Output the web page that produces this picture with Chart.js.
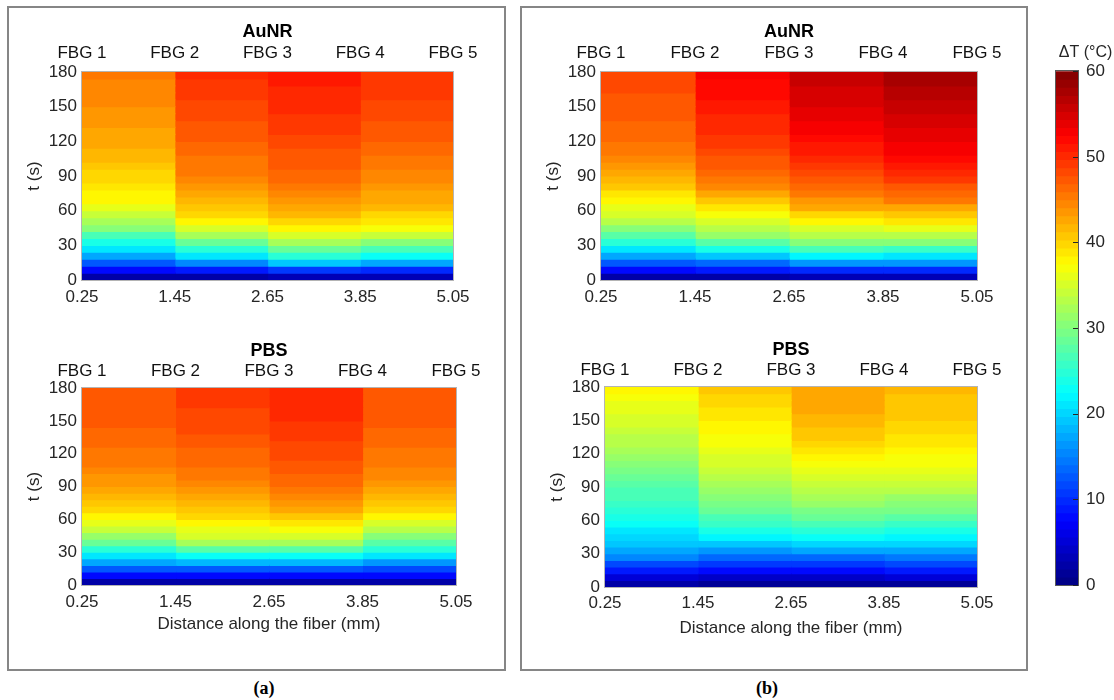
<!DOCTYPE html>
<html>
<head>
<meta charset="utf-8">
<title>Temperature maps along the fiber</title>
<script src="https://cdn.jsdelivr.net/npm/chart.js@4.4.1/dist/chart.umd.min.js"></script>
<style>
  html, body { margin: 0; padding: 0; background: #fff; }
  #figure { position: relative; width: 1114px; height: 700px; overflow: hidden; }
  .panel { position: absolute; border: 2px solid #868686; box-sizing: border-box; }
  .tag { position: absolute; font: bold 18px "Liberation Serif", "Times New Roman", serif; color: #000; transform: translate(-50%, -50%); }
  canvas { position: absolute; }
</style>
</head>
<body>
<div id="figure">
  <div class="panel" style="left:7px;top:6px;width:499px;height:665px"></div>
  <div class="panel" style="left:520px;top:6px;width:508px;height:665px"></div>

  <canvas id="aAuNR" width="480" height="300" style="left:10px;top:10px"></canvas>
  <canvas id="aPBS"  width="483" height="310" style="left:10px;top:330px"></canvas>
  <canvas id="bAuNR" width="485" height="300" style="left:529px;top:10px"></canvas>
  <canvas id="bPBS"  width="481" height="312" style="left:533px;top:330px"></canvas>
  <canvas id="colorbar" width="65" height="575" style="left:1050px;top:30px"></canvas>

  <div class="tag" style="left:264px;top:688px">(a)</div>
  <div class="tag" style="left:767px;top:688px">(b)</div>
</div>

<script>
// ============================================================================
// Data
// ============================================================================
const fiberPos = [0.25, 1.45, 2.65, 3.85, 5.05];
const fbgLabels = ['FBG 1', 'FBG 2', 'FBG 3', 'FBG 4', 'FBG 5'];
const timeSteps = [0, 6, 12, 18, 24, 30, 36, 42, 48, 54, 60, 66, 72, 78, 84, 90,
                   96, 102, 108, 114, 120, 126, 132, 138, 144, 150, 156, 162, 168, 174, 180];
const timeTicks = [0, 30, 60, 90, 120, 150, 180];
const colorTicks = [0, 10, 20, 30, 40, 50, 60];

// ΔT (°C) for each grating, one value per 6 s sample (t = 0 ... 174 s)
// (a) AuNR
const aAuNR1 = [2, 8, 13, 17, 21, 24, 27, 30, 32.5, 34.5, 36, 37.5, 38.2, 38.8, 39.5, 40, 40.7, 41.3, 41.8, 42.2, 42.6, 43, 43.3, 43.6, 44, 44.2, 44.5, 44.7, 44.9, 45];
const aAuNR2 = [2, 9, 15, 21, 25, 29, 32.5, 35.5, 37.5, 39.5, 40.8, 42, 43, 43.8, 44.4, 45, 45.4, 45.9, 46.3, 46.7, 47, 47.3, 47.6, 47.9, 48.2, 48.5, 48.8, 49.1, 49.4, 49.7];
const aAuNR3 = [3, 11, 19, 24.5, 29, 32, 35, 37.5, 40, 41.5, 42.8, 44, 44.8, 45.5, 46, 46.5, 47, 47.4, 47.8, 48.2, 48.5, 48.8, 49.1, 49.4, 49.7, 50, 50.3, 50.6, 50.9, 51.2];
const aAuNR4 = [3, 10, 17, 22.5, 27, 30.5, 34, 37, 39, 40.3, 41.3, 42.2, 43, 43.7, 44.3, 44.8, 45.3, 45.7, 46.1, 46.5, 46.9, 47.3, 47.6, 47.9, 48.2, 48.5, 48.8, 49.1, 49.3, 49.5];
// (a) PBS
const aPBS1 = [2, 8, 12.5, 17, 21.5, 25, 28.5, 31.5, 34, 36.5, 38.2, 39.6, 41, 42, 42.8, 43.4, 44, 44.5, 45, 45.4, 45.8, 46.1, 46.4, 46.7, 46.9, 47.1, 47.3, 47.5, 47.6, 47.7];
const aPBS2 = [2, 8, 13, 18, 23, 27.5, 32, 34.8, 36.5, 38, 39.5, 40.8, 42, 43, 43.8, 44.5, 45, 45.5, 46, 46.4, 46.8, 47.2, 47.6, 47.9, 48.2, 48.5, 48.7, 48.9, 49.1, 49.3];
const aPBS3 = [2, 8, 13, 18, 23, 27.5, 32, 35, 36.8, 38.8, 41, 42.8, 44, 44.8, 45.5, 46, 46.5, 47, 47.5, 47.9, 48.3, 48.7, 49, 49.3, 49.6, 49.8, 50, 50.2, 50.4, 50.5];
const aPBS4 = [2, 7.5, 12, 16.5, 21, 24.5, 28, 30.5, 33, 35.5, 37.8, 39.5, 40.8, 42, 43, 43.7, 44.2, 44.7, 45.1, 45.5, 45.8, 46.1, 46.4, 46.7, 46.9, 47.1, 47.3, 47.5, 47.6, 47.7];
// (b) AuNR
const bAuNR1 = [2, 8, 13, 17.5, 21.5, 25, 28, 30.8, 33, 35, 36.5, 37.5, 39, 40.5, 41.8, 43, 44, 44.7, 45.3, 45.8, 46.2, 46.5, 46.8, 47.1, 47.3, 47.5, 47.7, 47.9, 48.1, 48.3];
const bAuNR2 = [2, 8.5, 14, 19, 24, 28, 31, 33.5, 35.5, 37.3, 39, 41, 42.8, 44.2, 45.3, 46.2, 47, 47.7, 48.3, 48.8, 49.3, 49.8, 50.2, 50.6, 51, 51.3, 51.6, 51.9, 52.2, 52.5];
const bAuNR3 = [3, 10, 16, 22, 27, 30.5, 33, 35.5, 37.5, 40, 42.3, 44, 45.5, 46.8, 47.8, 48.7, 49.5, 50.2, 50.9, 51.5, 52, 52.6, 53.1, 53.6, 54, 54.4, 54.8, 55.2, 55.5, 55.8];
const bAuNR4 = [3, 10, 16, 21.5, 26, 30, 33, 36, 38.5, 40.8, 43, 45, 46.5, 47.8, 49, 50, 51, 51.8, 52.5, 53.2, 53.8, 54.3, 54.8, 55.3, 55.7, 56.1, 56.5, 56.9, 57.2, 57.5];
// (b) PBS
const bPBS1 = [2, 5, 9, 12, 15, 17, 18.8, 20.3, 21.5, 22.5, 23.5, 24.5, 25.5, 26.3, 27, 28, 28.8, 29.5, 30.3, 31.2, 32.2, 33, 33.6, 34.2, 34.7, 35.2, 35.8, 36.5, 37.3, 38];
const bPBS2 = [1.5, 4.5, 8, 11, 13.5, 16, 19, 22, 24, 25.5, 27, 28.3, 29.3, 30.3, 31.3, 32.3, 33.2, 34, 34.8, 35.4, 36, 36.7, 37.3, 37.8, 38.3, 38.8, 39.3, 39.8, 40.2, 40.6];
const bPBS3 = [1.5, 4.5, 8, 11, 14, 17, 20, 22.5, 24.5, 26.5, 28.2, 29.8, 31, 32.2, 33.2, 34.2, 35.2, 36.2, 37, 37.8, 38.8, 39.7, 40.5, 41, 41.5, 41.9, 42.2, 42.5, 42.8, 43.1];
const bPBS4 = [1.5, 5, 8.5, 11.5, 14.5, 17.5, 20, 22, 24, 26, 27.8, 29.3, 30.7, 31.8, 33, 34, 35, 35.8, 36.7, 37.4, 38, 38.6, 39.2, 39.7, 40.1, 40.5, 40.8, 41, 41.2, 41.4];

// ============================================================================
// Colour map (jet, 64 levels, 0-60 °C)
// ============================================================================
const CMAX = 60;
const LEVELS = 64;
const TEXT = '#262626';

Chart.defaults.font.family = '"Liberation Sans", Arial, Helvetica, sans-serif';
Chart.defaults.color = TEXT;

function clamp01(v) {
    return Math.max(0, Math.min(1, v));
}

function jetColor(value) {
    let idx = Math.floor(value / CMAX * LEVELS);
    idx = Math.max(0, Math.min(LEVELS - 1, idx));
    const f = (idx + 0.5) / LEVELS;
    const r = clamp01(Math.min(4 * f - 1.5, -4 * f + 4.5));
    const g = clamp01(Math.min(4 * f - 0.5, -4 * f + 3.5));
    const b = clamp01(Math.min(4 * f + 0.5, -4 * f + 2.5));
    return `rgb(${Math.round(r * 255)}, ${Math.round(g * 255)}, ${Math.round(b * 255)})`;
}

// thin box round the plot area
function frameBox(color) {
    return {
        id: 'frameBox',
        afterDatasetsDraw(chart) {
            const { ctx, chartArea: a } = chart;
            ctx.save();
            ctx.strokeStyle = color;
            ctx.lineWidth = 1;
            ctx.strokeRect(Math.round(a.left) - 0.5, Math.round(a.top) - 0.5,
                           Math.round(a.width) + 1, Math.round(a.height) + 1);
            ctx.restore();
        }
    };
}

function fixedTicks(values) {
    return scale => { scale.ticks = values.map(value => ({ value })); };
}

// ============================================================================
// Heatmaps
// ============================================================================
function drawHeatmap(canvasId, title, columns, lay) {
    // one floating bar per grating segment and time sample
    const datasets = columns.map((vals, c) => ({
        data: vals.map((v, i) => ({
            x: (fiberPos[c] + fiberPos[c + 1]) / 2,
            y: [timeSteps[i], timeSteps[i + 1]],
            v: v
        })),
        backgroundColor: ctx => ctx.raw ? jetColor(ctx.raw.v) : 'transparent',
        borderWidth: 0,
        barPercentage: 1,
        categoryPercentage: 1,
        grouped: false,
        inflateAmount: 0.6
    }));

    return new Chart(document.getElementById(canvasId), {
        type: 'bar',
        data: { datasets },
        options: {
            responsive: false,
            animation: false,
            devicePixelRatio: 1,
            events: [],
            layout: { padding: { left: 0, right: 37, top: 0, bottom: 0 } },
            plugins: {
                legend: { display: false },
                tooltip: { enabled: false }
            },
            scales: {
                x: {
                    type: 'linear',
                    position: 'bottom',
                    min: fiberPos[0],
                    max: fiberPos[fiberPos.length - 1],
                    offset: false,
                    afterBuildTicks: fixedTicks(fiberPos),
                    afterFit: s => { s.height = lay.xHeight; },
                    grid: { display: false, drawTicks: false },
                    border: { display: false },
                    ticks: {
                        callback: v => v.toFixed(2),
                        padding: lay.xTickPad,
                        autoSkip: false,
                        maxRotation: 0,
                        color: TEXT,
                        font: { size: 17 }
                    },
                    title: {
                        display: lay.xTitle,
                        text: 'Distance along the fiber (mm)',
                        color: TEXT,
                        font: { size: 17 },
                        padding: { top: 0, bottom: lay.xTitlePad }
                    }
                },
                x2: {
                    type: 'linear',
                    position: 'top',
                    min: fiberPos[0],
                    max: fiberPos[fiberPos.length - 1],
                    offset: false,
                    afterBuildTicks: fixedTicks(fiberPos),
                    afterFit: s => { s.height = lay.topHeight; },
                    grid: { display: false, drawTicks: false },
                    border: { display: false },
                    ticks: {
                        callback: (v, i) => fbgLabels[i],
                        padding: lay.fbgPad,
                        autoSkip: false,
                        maxRotation: 0,
                        color: '#111',
                        font: { size: 17 }
                    },
                    title: {
                        display: true,
                        text: title,
                        color: '#000',
                        font: { size: 18, weight: 'bold' },
                        padding: { top: lay.titlePad, bottom: 0 }
                    }
                },
                y: {
                    min: 0,
                    max: 180,
                    afterBuildTicks: fixedTicks(timeTicks),
                    afterFit: s => { s.width = 72; },
                    grid: { display: false, drawTicks: false },
                    border: { display: false },
                    ticks: {
                        callback: v => String(v),
                        padding: 5,
                        autoSkip: false,
                        color: TEXT,
                        font: { size: 17 }
                    },
                    title: {
                        display: true,
                        text: 't (s)',
                        color: TEXT,
                        font: { size: 17 },
                        padding: { top: 14, bottom: 0 }
                    }
                }
            }
        },
        plugins: [frameBox('#b4b4b4')]
    });
}

const topLayout = { xHeight: 30, xTickPad: 7, xTitle: false, xTitlePad: 0, topHeight: 62, fbgPad: 8, titlePad: 11 };

drawHeatmap('aAuNR', 'AuNR', [aAuNR1, aAuNR2, aAuNR3, aAuNR4], topLayout);
drawHeatmap('aPBS', 'PBS', [aPBS1, aPBS2, aPBS3, aPBS4],
    { xHeight: 55, xTickPad: 7, xTitle: true, xTitlePad: 5, topHeight: 58, fbgPad: 6, titlePad: 10 });
drawHeatmap('bAuNR', 'AuNR', [bAuNR1, bAuNR2, bAuNR3, bAuNR4], topLayout);
drawHeatmap('bPBS', 'PBS', [bPBS1, bPBS2, bPBS3, bPBS4],
    { xHeight: 55, xTickPad: 6, xTitle: true, xTitlePad: 3, topHeight: 57, fbgPad: 6, titlePad: 9 });

// ============================================================================
// Colour bar
// ============================================================================
const levelBars = [];
for (let i = 0; i < LEVELS; i++) {
    levelBars.push({ x: 'ΔT', y: [i * CMAX / LEVELS, (i + 1) * CMAX / LEVELS] });
}

const colorbarTicks = {
    id: 'colorbarTicks',
    afterDatasetsDraw(chart) {
        const { ctx, chartArea: a, scales: { y } } = chart;
        ctx.save();
        ctx.strokeStyle = TEXT;
        ctx.lineWidth = 1;
        colorTicks.forEach(t => {
            const py = Math.round(y.getPixelForValue(t)) + 0.5;
            ctx.beginPath();
            ctx.moveTo(a.right - 5, py);
            ctx.lineTo(a.right, py);
            ctx.stroke();
        });
        ctx.restore();
    }
};

new Chart(document.getElementById('colorbar'), {
    type: 'bar',
    data: {
        labels: ['ΔT'],
        datasets: [{
            data: levelBars,
            backgroundColor: ctx => ctx.raw ? jetColor((ctx.raw.y[0] + ctx.raw.y[1]) / 2) : 'transparent',
            borderWidth: 0,
            barPercentage: 1,
            categoryPercentage: 1,
            grouped: false,
            inflateAmount: 0.6
        }]
    },
    options: {
        responsive: false,
        animation: false,
        devicePixelRatio: 1,
        events: [],
        layout: { padding: { left: 6, right: 0, top: 0, bottom: 20 } },
        plugins: {
            legend: { display: false },
            tooltip: { enabled: false },
            title: {
                display: true,
                text: 'ΔT (°C)',
                color: TEXT,
                font: { size: 16, weight: 'normal' },
                padding: { top: 13, bottom: 9 }
            }
        },
        scales: {
            x: { display: false },
            y: {
                position: 'right',
                min: 0,
                max: CMAX,
                afterBuildTicks: fixedTicks(colorTicks),
                afterFit: s => { s.width = 37; },
                grid: { display: false, drawTicks: false },
                border: { display: false },
                ticks: {
                    callback: v => String(v),
                    padding: 8,
                    autoSkip: false,
                    color: TEXT,
                    font: { size: 17 }
                }
            }
        }
    },
    plugins: [frameBox('#5a5a5a'), colorbarTicks]
});
</script>
</body>
</html>
